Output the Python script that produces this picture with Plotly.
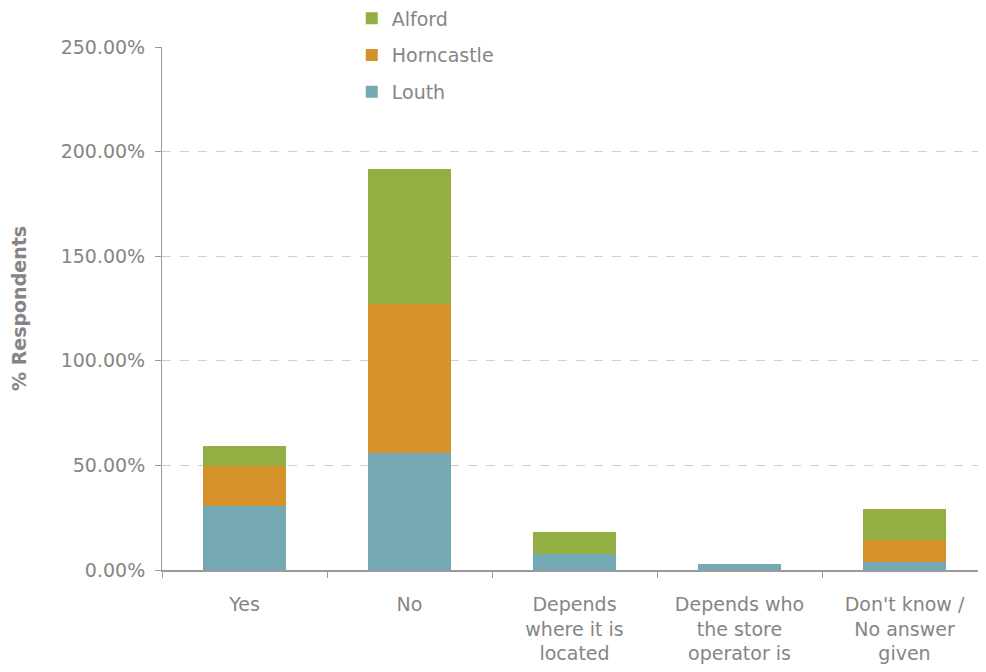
import plotly.graph_objects as go

categories = ["Yes", "No", "Depends where it is located", "Depends who the store operator is", "Don't know / No answer given"]
tick_labels = ["Yes", "No", "Depends<br>where it is<br>located", "Depends who<br>the store<br>operator is", "Don't know /<br>No answer<br>given"]
louth = [30.6, 55.9, 7.8, 3.0, 4.0]
horncastle = [19.3, 71.4, 0.0, 0.0, 10.3]
alford = [9.4, 64.4, 10.4, 0.0, 14.9]

series = [("Louth", louth, "#74a9b4", 3), ("Horncastle", horncastle, "#d6922a", 2), ("Alford", alford, "#93ae42", 1)]

fig = go.Figure()
for name, vals, color, rank in series:
    fig.add_trace(go.Bar(x=categories, y=vals, name=name, marker=dict(color=color, line=dict(width=0)),
                         legendgroup=name, legendrank=rank, width=0.5))

font_family = "DejaVu Sans, Liberation Sans, Arial, sans-serif"
gray = "#858585"
fig.update_layout(
    barmode="stack",
    width=986, height=672,
    margin=dict(l=154, r=7, t=39, b=110, autoexpand=False),
    plot_bgcolor="white", paper_bgcolor="white",
    font=dict(family=font_family, size=19, color=gray),
    legend=dict(x=0.230, y=1.091, xanchor="left", yanchor="top",
                traceorder="grouped", tracegroupgap=9, font=dict(size=19, color=gray),
                bgcolor="rgba(0,0,0,0)"),
    bargap=0.5,
)
fig.update_yaxes(range=[0, 250], tickvals=[0, 50, 100, 150, 200, 250],
                 ticktext=["0.00%", "50.00%", "100.00%", "150.00%", "200.00%", "250.00%"],
                 showgrid=True, gridcolor="#cfcfcf", griddash="dash", gridwidth=1,
                 showline=True, linecolor="#9a9a9a", linewidth=1,
                 ticks="outside", ticklen=6, tickcolor="#9a9a9a", automargin=False, ticklabelstandoff=6,
                 title=dict(text="<b>% Respondents</b>", font=dict(size=19, color=gray), standoff=31),
                 zeroline=False)
fig.update_xaxes(tickvals=categories, ticktext=tick_labels, showline=True, linecolor="#9a9a9a", linewidth=2,
                 ticks="outside", ticklen=6, tickcolor="#9a9a9a", tickson="boundaries", automargin=False,
                 tickangle=0, ticklabelstandoff=16)
fig.write_html("out.html")
